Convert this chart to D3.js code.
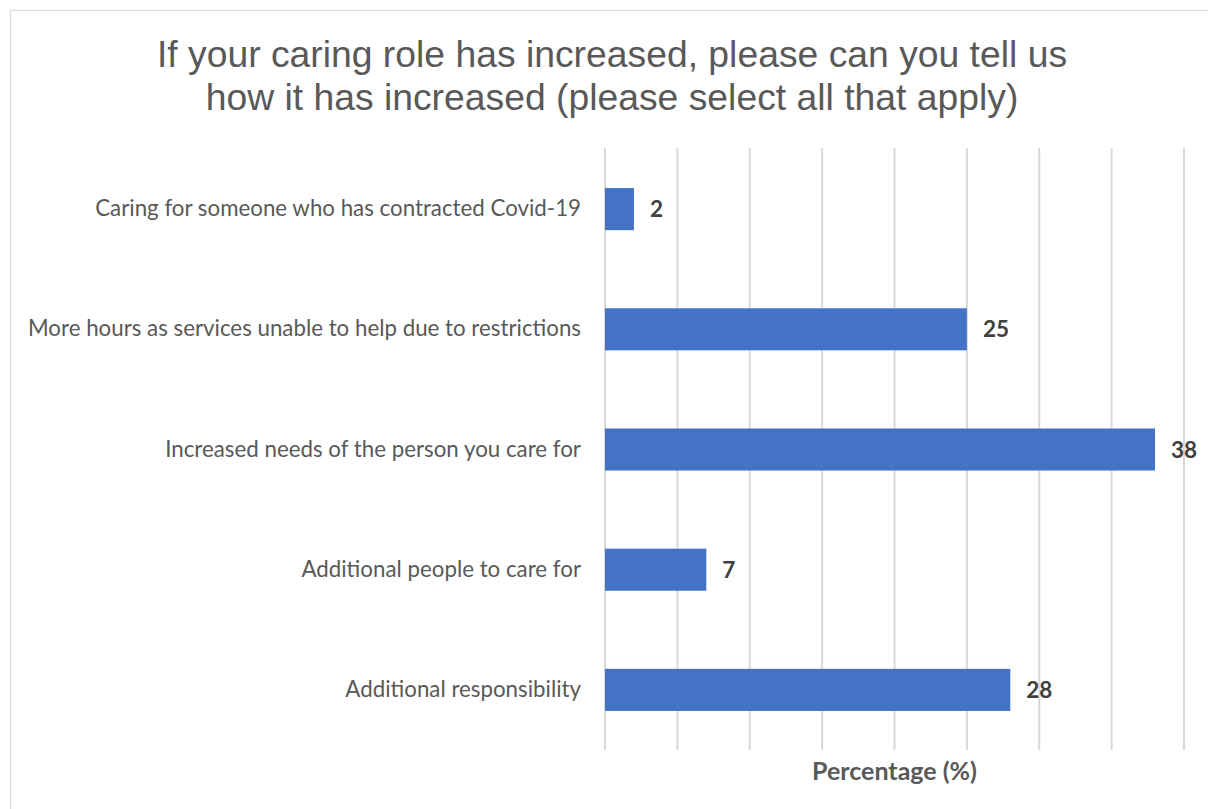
<!DOCTYPE html>
<html><head><meta charset="utf-8">
<script src="https://cdn.jsdelivr.net/npm/d3@7"></script>
<style>html,body{margin:0;padding:0;background:#fff;overflow:hidden}</style>
</head><body>
<svg id="c" width="1208" height="809"></svg>
<script>
const categories = [
  "Caring for someone who has contracted Covid-19",
  "More hours as services unable to help due to restrictions",
  "Increased needs of the person you care for",
  "Additional people to care for",
  "Additional responsibility"
];
const values = [2, 25, 38, 7, 28];
const xTicks = [0, 5, 10, 15, 20, 25, 30, 35, 40];
const titleLines = ["If your caring role has increased, please can you tell us", "how it has increased (please select all that apply)"];
const axisTitle = "Percentage (%)";

const svg = d3.select("#c");
svg.append("rect").attr("x", 10.5).attr("y", 10.5).attr("width", 1300).attr("height", 900)
  .attr("fill", "#fff").attr("stroke", "#d9d9d9").attr("stroke-width", 1.2);

const m = {left: 605, right: 1184, top: 149, bottom: 750};
const x = d3.scaleLinear().domain([0, 40]).range([m.left, m.right]);
const y = d3.scaleBand().domain(categories).range([m.top, m.bottom]).paddingInner(0.65).paddingOuter(0.325);

// gridlines
svg.append("g").selectAll("line").data(xTicks).join("line")
  .attr("x1", d => x(d)).attr("x2", d => x(d))
  .attr("y1", m.top - 1).attr("y2", m.bottom)
  .attr("stroke", "#d9d9d9").attr("stroke-width", 2);

// bars
svg.append("g").selectAll("rect").data(values).join("rect")
  .attr("x", x(0)).attr("y", (d, i) => y(categories[i]))
  .attr("width", d => x(d) - x(0)).attr("height", y.bandwidth())
  .attr("fill", "#4472C4");

// value labels
svg.append("g").selectAll("text").data(values).join("text")
  .attr("x", d => x(d) + 16).attr("y", (d, i) => y(categories[i]) + y.bandwidth() / 2)
  .attr("dy", "0.36em")
  .attr("font-family", "Lato, 'Open Sans', sans-serif").attr("font-weight", "bold")
  .attr("font-size", 22.5).attr("fill", "#404040")
  .text(d => d);

// category labels via axis
const ax = svg.append("g").attr("transform", `translate(${m.left - 24},0)`)
  .call(d3.axisLeft(y).tickSize(0).tickPadding(0));
ax.select(".domain").remove();
ax.selectAll("text").attr("font-family", "Lato, 'Open Sans', sans-serif")
  .attr("font-size", 22.3).attr("fill", "#595959");

// title
svg.append("text").attr("x", 612).attr("y", 67).attr("text-anchor", "middle")
  .attr("font-family", "'Liberation Sans', Arial, sans-serif").attr("font-size", 37.3)
  .attr("fill", "#595959")
  .selectAll("tspan").data(titleLines).join("tspan")
  .attr("x", 612).attr("dy", (d, i) => i === 0 ? 0 : 43).text(d => d);

// axis title
svg.append("text").attr("x", (m.left + m.right) / 2).attr("y", 780).attr("text-anchor", "middle")
  .attr("font-family", "Lato, 'Open Sans', sans-serif").attr("font-weight", "bold")
  .attr("font-size", 25).attr("fill", "#595959").text(axisTitle);
</script>
</body></html>
